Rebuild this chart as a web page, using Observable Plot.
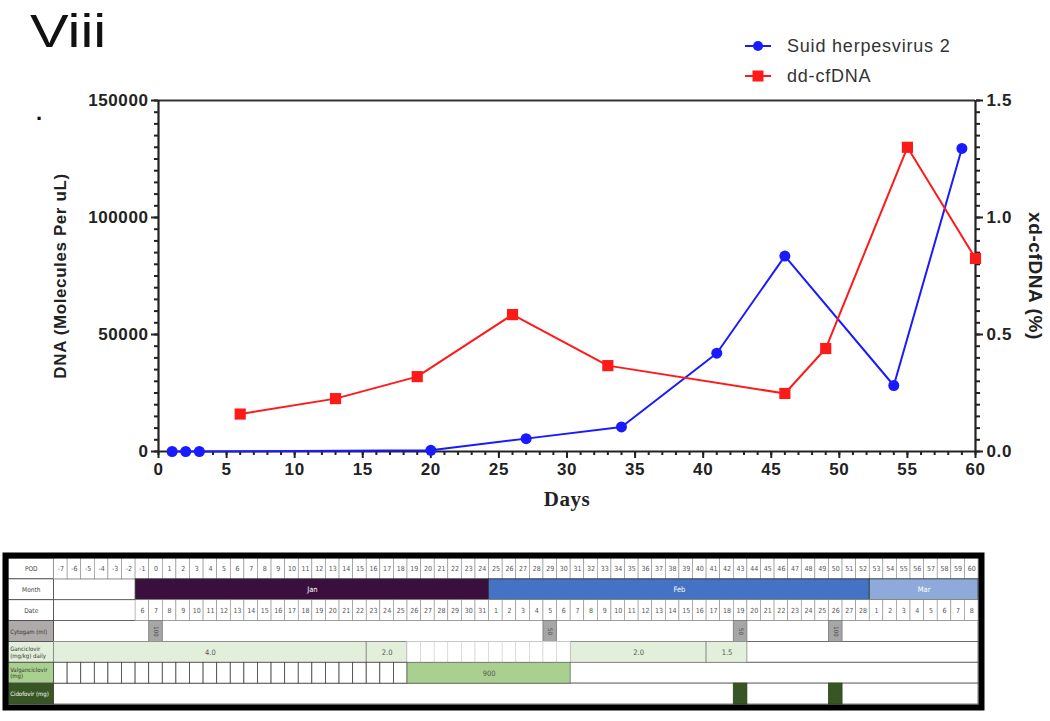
<!DOCTYPE html>
<html><head><meta charset="utf-8">
<script src="https://cdn.jsdelivr.net/npm/d3@7"></script>
<script src="https://cdn.jsdelivr.net/npm/@observablehq/plot@0.6"></script>
<style>
body{margin:0;background:#fff;width:1050px;height:721px;overflow:hidden;position:relative;font-family:"Liberation Sans",Arial,sans-serif}
#title{position:absolute;left:30px;top:8px;font-size:46px;line-height:46px;transform:scaleX(1.26);transform-origin:left top;color:#111}
#dot{position:absolute;left:36px;top:102px;font-size:22px;line-height:22px;font-weight:bold;color:#111}
.leg{position:absolute;left:743px;height:24px;display:flex;align-items:center;font-size:18px;letter-spacing:0.8px;color:#333}
.leg svg{margin-right:14px}
#chart{position:absolute;left:0;top:0}
#table{position:absolute;left:0;top:540px}
</style>
</head><body>
<div id="title">Viii</div>
<div id="dot">.</div>
<div id="legend"></div>
<div id="chart"></div>
<div id="table"></div>
<script>
// ---- main chart data ----
const herpesDays = [1, 2, 3, 20, 27, 34, 41, 46, 54, 59];
const herpesValues = [0, 0, 0, 500, 5500, 10500, 42000, 83500, 28200, 129500];
const cfDays = [6, 13, 19, 26, 33, 46, 49, 55, 60];
const cfPercent = [0.16, 0.226, 0.32, 0.585, 0.367, 0.248, 0.44, 1.30, 0.825];
const xTicks = [0, 5, 10, 15, 20, 25, 30, 35, 40, 45, 50, 55, 60];
const yLeftTicks = [0, 50000, 100000, 150000];
const yRightTicks = [0.0, 0.5, 1.0, 1.5];
const seriesNames = ["Suid herpesvirus 2", "dd-cfDNA"];
const seriesColors = ["#1a1aff", "#ff1a1a"];

// ---- timeline table data ----
const rowLabels = ["POD", "Month", "Date", "Cytogam (ml)", "Ganciclovir (mg/kg) daily", "Valganciclovir (mg)", "Cidofovir (mg)"];
const rowLabelFill = ["#ffffff", "#ffffff", "#ffffff", "#aeaaaa", "#e2efda", "#a9d08e", "#375623"];
const rowLabelInk = ["#444", "#444", "#444", "#333", "#333", "#333", "#ffffff"];
const podFirst = -7, podLast = 60;
const months = ["Jan", "Feb", "Mar"];
const monthStartPod = [-1, 25, 53];
const monthEndPod = [24, 52, 60];
const monthFirstDate = [6, 1, 1];
const monthFill = ["#3b0f3d", "#4472c4", "#8eaadb"];
const cytogamPod = [0, 29, 43, 50];
const cytogamDose = ["100", "50", "50", "100"];
const gancStartPod = [-7, 16, 31, 41];
const gancEndPod = [15, 18, 40, 43];
const gancDose = ["4.0", "2.0", "2.0", "1.5"];
const gancGapPods = d3.range(19, 31);
const valgStartPod = [19];
const valgEndPod = [30];
const valgDose = ["900"];
const valgGridPods = d3.range(-7, 19);
const cidofovirPod = [43, 50];

// legend
const legend = document.getElementById("legend");
seriesNames.forEach((name, i) => {
  const row = document.createElement("div");
  row.className = "leg";
  row.style.top = (34 + i * 30) + "px";
  const sym = i === 0
    ? `<circle cx="15" cy="7" r="5" fill="${seriesColors[i]}"/>`
    : `<rect x="9.5" y="1.5" width="11" height="11" fill="${seriesColors[i]}"/>`;
  row.innerHTML = `<svg width="30" height="14"><line x1="2" x2="28" y1="7" y2="7" stroke="${seriesColors[i]}" stroke-width="2"/>${sym}</svg><span>${name}</span>`;
  legend.appendChild(row);
});

const SCALE = 100000; // right axis % -> left axis units
const herpes = herpesDays.map((d, i) => ({day: d, value: herpesValues[i]}));
const cf = cfDays.map((d, i) => ({day: d, value: cfPercent[i] * SCALE}));
const yMax = yLeftTicks[yLeftTicks.length - 1];

const axisStyle = {strokeWidth: 2, label: null, fill: "#222"};
const chart = Plot.plot({
  width: 1050, height: 530,
  marginTop: 100, marginLeft: 158, marginRight: 75, marginBottom: 79,
  x: {domain: [0, 60]},
  y: {domain: [0, yMax]},
  style: {fontFamily: '"Liberation Sans", Arial, sans-serif', fontSize: "17px", fontWeight: "bold", color: "#222", background: "transparent", letterSpacing: "0.6px"},
  marks: [
    Plot.axisX({...axisStyle, ticks: d3.range(0, 61, 1), tickSize: 4, tickFormat: () => ""}),
    Plot.axisX({...axisStyle, ticks: xTicks, tickSize: 7, tickPadding: 4, tickFormat: d => String(d)}),
    Plot.axisY({...axisStyle, ticks: d3.range(0, yMax + 1, 5000), tickSize: 4, tickFormat: () => ""}),
    Plot.axisY({...axisStyle, ticks: yLeftTicks, tickSize: 7, tickPadding: 3, tickFormat: d => String(d)}),
    Plot.axisY({...axisStyle, anchor: "right", ticks: d3.range(0, yMax + 1, 5000), tickSize: 4, tickFormat: () => ""}),
    Plot.axisY({...axisStyle, anchor: "right", ticks: yRightTicks.map(v => v * SCALE), tickSize: 7, tickPadding: 4, tickFormat: d => (d / SCALE).toFixed(1)}),
    Plot.ruleY([0], {strokeWidth: 2.2, stroke: "#222"}),
    Plot.ruleY([yMax], {strokeWidth: 2, stroke: "#333"}),
    Plot.ruleX([0], {strokeWidth: 2.2, stroke: "#222"}),
    Plot.ruleX([60], {strokeWidth: 2.2, stroke: "#222"}),
    Plot.line(herpes, {x: "day", y: "value", stroke: seriesColors[0], strokeWidth: 2}),
    Plot.dot(herpes, {x: "day", y: "value", fill: seriesColors[0], r: 5.5}),
    Plot.line(cf, {x: "day", y: "value", stroke: seriesColors[1], strokeWidth: 2}),
    Plot.dot(cf, {x: "day", y: "value", fill: seriesColors[1], symbol: "square", r: 6.3}),
    Plot.text(["Days"], {frameAnchor: "bottom", dy: 54, fontFamily: '"Liberation Serif", "Times New Roman", serif', fontSize: 21, fontWeight: "bold", fill: "#222"}),
    Plot.text(["DNA (Molecules Per uL)"], {frameAnchor: "left", textAnchor: "middle", dx: -98, rotate: -90, fontSize: 17, fontWeight: "bold", fill: "#222"}),
    Plot.text(["xd-cfDNA (%)"], {frameAnchor: "right", textAnchor: "middle", dx: 60, rotate: 90, fontSize: 19, fontWeight: "bold", fill: "#222"})
  ]
});
document.getElementById("chart").appendChild(chart);

// ---- timeline table ----
const labelLeft = -10.85, gridLeft = podFirst - 0.5, gridRight = podLast + 0.5;
const pods = d3.range(podFirst, podLast + 1);
const rows = d3.range(rowLabels.length);
const dateCells = [];
months.forEach((m, i) => {
  for (let p = monthStartPod[i]; p <= monthEndPod[i]; p++) dateCells.push({pod: p, date: monthFirstDate[i] + (p - monthStartPod[i])});
});
const monthData = months.map((m, i) => ({name: m, s: monthStartPod[i], e: monthEndPod[i], fill: monthFill[i]}));
const gancData = gancDose.map((d, i) => ({s: gancStartPod[i], e: gancEndPod[i], dose: d}));
const valgData = valgDose.map((d, i) => ({s: valgStartPod[i], e: valgEndPod[i], dose: d}));
const cytoData = cytogamPod.map((p, i) => ({pod: p, dose: cytogamDose[i]}));
const cellStroke = "#8a8a8a";
const headRows = rows.filter(r => r < 3), drugRows = rows.filter(r => r >= 3);

const table = Plot.plot({
  width: 1050, height: 174,
  marginTop: 18, marginBottom: 10, marginLeft: 8, marginRight: 72,
  x: {domain: [labelLeft, gridRight], axis: null},
  y: {domain: [0, rowLabels.length], reverse: true, axis: null},
  style: {fontFamily: '"Liberation Sans Narrow", "DejaVu Sans Condensed", sans-serif', fontSize: "7px", background: "#fff"},
  marks: [
    // row backgrounds
    Plot.rect(rows, {x1: gridLeft, x2: gridRight, y1: r => r, y2: r => r + 1, fill: "#fff", stroke: "#555", strokeWidth: 0.8}),
    // label column
    Plot.rect(rows, {x1: labelLeft, x2: gridLeft, y1: r => r, y2: r => r + 1, fill: r => rowLabelFill[r], stroke: "#444", strokeWidth: 0.8}),
    Plot.text(headRows, {x: (labelLeft + gridLeft) / 2, y: r => r + 0.5, text: r => rowLabels[r], textAnchor: "middle", fill: r => rowLabelInk[r], fontSize: 6.5}),
    Plot.text(drugRows, {x: labelLeft + 0.12, y: r => r + 0.5, text: r => rowLabels[r], textAnchor: "start", lineWidth: 8.5, lineHeight: 1.05, fill: r => rowLabelInk[r], fontSize: 6}),
    // POD row
    Plot.rect(pods, {x1: p => p - 0.5, x2: p => p + 0.5, y1: 0, y2: 1, fill: "#fff", stroke: cellStroke, strokeWidth: 0.6}),
    Plot.text(pods, {x: p => p, y: 0.5, text: p => String(p), fill: "#555"}),
    // Month row
    Plot.rect(monthData, {x1: d => d.s - 0.5, x2: d => d.e + 0.5, y1: 1, y2: 2, fill: "fill", stroke: "#333", strokeWidth: 0.8}),
    Plot.text(monthData, {x: d => (d.s + d.e) / 2, y: 1.5, text: "name", fill: "#fff", fontSize: 7.5}),
    // Date row
    Plot.rect(dateCells, {x1: d => d.pod - 0.5, x2: d => d.pod + 0.5, y1: 2, y2: 3, fill: "#fff", stroke: cellStroke, strokeWidth: 0.6}),
    Plot.text(dateCells, {x: "pod", y: 2.5, text: d => String(d.date), fill: "#555"}),
    // Cytogam row
    Plot.rect(cytoData, {x1: d => d.pod - 0.5, x2: d => d.pod + 0.5, y1: 3, y2: 4, fill: "#a6a6a6", stroke: "#777", strokeWidth: 0.8}),
    Plot.text(cytoData, {x: "pod", y: 3.5, text: "dose", fill: "#444", rotate: 90, fontSize: 6}),
    // Ganciclovir row
    Plot.rect(gancData, {x1: d => d.s - 0.5, x2: d => d.e + 0.5, y1: 4, y2: 5, fill: "#e2efda", stroke: "#888", strokeWidth: 0.8}),
    Plot.text(gancData, {x: d => (d.s + d.e) / 2, y: 4.5, text: "dose", fill: "#555", fontSize: 7.5}),
    Plot.rect(gancGapPods, {x1: p => p - 0.5, x2: p => p + 0.5, y1: 4, y2: 5, fill: "#fff", stroke: "#cfcfcf", strokeWidth: 0.6}),
    // Valganciclovir row
    Plot.rect(valgGridPods, {x1: p => p - 0.5, x2: p => p + 0.5, y1: 5, y2: 6, fill: "#fff", stroke: "#444", strokeWidth: 0.8}),
    Plot.rect(valgData, {x1: d => d.s - 0.5, x2: d => d.e + 0.5, y1: 5, y2: 6, fill: "#a9d08e", stroke: "#666", strokeWidth: 0.8}),
    Plot.text(valgData, {x: d => (d.s + d.e) / 2, y: 5.5, text: "dose", fill: "#555", fontSize: 7.5}),
    // Cidofovir row
    Plot.rect(cidofovirPod, {x1: p => p - 0.5, x2: p => p + 0.5, y1: 6, y2: 7, fill: "#375623", stroke: "#2b431b", strokeWidth: 0.8}),
    // outer border
    Plot.frame({stroke: "#000", strokeWidth: 6, inset: -3})
  ]
});
document.getElementById("table").appendChild(table);
</script>
</body></html>
